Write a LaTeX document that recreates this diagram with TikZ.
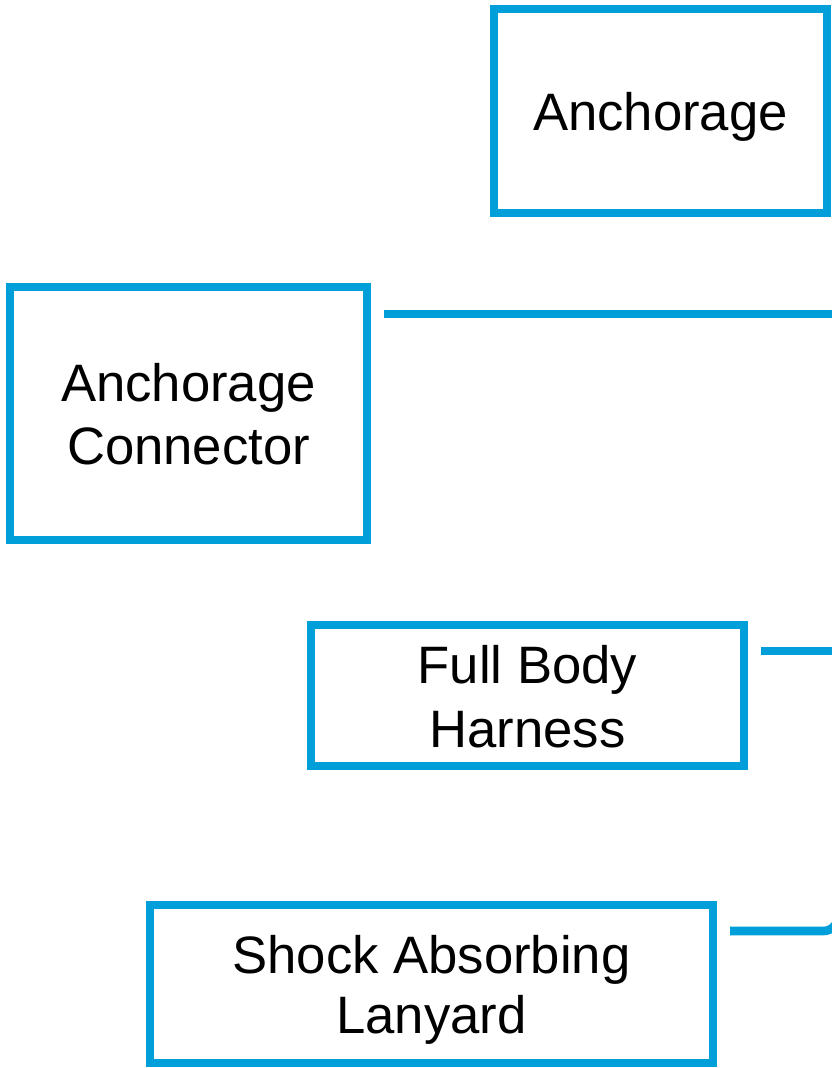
\documentclass[tikz,border=0pt]{standalone}
\usepackage{fontspec}
\setmainfont{Liberation Sans}
\definecolor{boxblue}{RGB}{0,159,218}
\newcommand\twolines[3]{{\fontsize{39.5}{#1}\selectfont\begin{tabular}[b]{@{}c@{}}#2\\#3\end{tabular}}}
\begin{document}
\begin{tikzpicture}[x=0.75pt,y=-0.75pt,
  part/.style={draw=boxblue, line width=6pt, inner sep=0pt, anchor=base,
    font=\fontsize{39.5}{47}\selectfont, text=black},
  link/.style={draw=boxblue, line width=6.5pt}]
\clip (0,0) rectangle (832,1068);
\useasboundingbox (0,0) rectangle (832,1068);
\node[part, minimum width=249.75pt, text height=90.75pt, text depth=62.25pt] (anch) at (660.5,130) {Anchorage};
\node[part, minimum width=267.75pt, text height=132.75pt, text depth=57pt] (conn) at (188.5,464) {\twolines{47.25}{Anchorage}{Connector}};
\node[part, minimum width=324.75pt, text height=91.5pt, text depth=14.25pt] (harn) at (527.5,747) {\twolines{48}{Full Body}{Harness}};
\node[part, minimum width=422.25pt, text height=96pt, text depth=22.5pt] (lany) at (431.5,1033) {\twolines{45}{Shock Absorbing}{Lanyard}};
\coordinate (e1) at (860,314);
\coordinate (e2) at (860,651);
\coordinate (c3) at (838,931);
\coordinate (e3) at (838,860);
\draw[link] ([xshift=9.75pt]conn.east |- 0,314) -- (e1);
\draw[link] ([xshift=9.75pt]harn.east |- 0,651) -- (e2);
\draw[link, rounded corners=11pt] ([xshift=9.75pt]lany.east |- 0,931) -- (c3) -- (e3);
\end{tikzpicture}
\end{document}
